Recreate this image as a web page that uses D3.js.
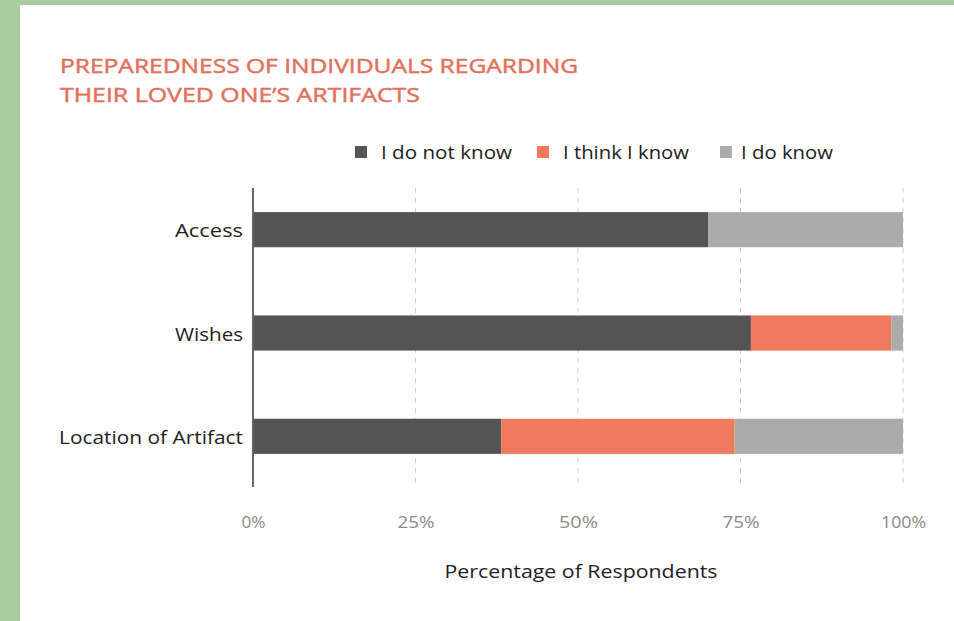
<!DOCTYPE html>
<html>
<head>
<meta charset="utf-8">
<script src="https://cdn.jsdelivr.net/npm/d3@7"></script>
<style>
  html, body { margin: 0; padding: 0; background: #fff; }
  svg { display: block; }
</style>
</head>
<body>
<svg id="chart" width="954" height="621"></svg>
<script>
const categories = ["Access", "Wishes", "Location of Artifact"];
const seriesNames = ["I do not know", "I think I know", "I do know"];
const doNotKnow = [70, 76.6, 38.2];
const thinkKnow = [0, 21.6, 35.9];
const doKnow = [30, 1.8, 25.9];
const tickValues = [0, 25, 50, 75, 100];
const tickLabels = ["0%", "25%", "50%", "75%", "100%"];
const titleLines = ["PREPAREDNESS OF INDIVIDUALS REGARDING", "THEIR LOVED ONE\u2019S ARTIFACTS"];
const axisTitle = "Percentage of Respondents";

const colors = ["#535453", "#f07a5e", "#ababab"];
const font = "'Open Sans', 'Noto Sans', sans-serif";

const svg = d3.select("#chart");
svg.append("rect").attr("width", 954).attr("height", 621).attr("fill", "#a8cc9f");
svg.append("rect").attr("x", 20).attr("y", 5).attr("width", 934).attr("height", 616).attr("fill", "#fff");

// Title
svg.append("g").selectAll("text").data(titleLines).join("text")
  .attr("x", 60).attr("y", (d, i) => 73 + i * 29)
  .attr("font-family", font).attr("font-size", 20).attr("font-weight", 400)
  .attr("fill", "#e2705a").attr("stroke", "#e2705a").attr("stroke-width", 0.45)
  .attr("textLength", (d, i) => i === 0 ? 518 : 360)
  .attr("lengthAdjust", "spacingAndGlyphs")
  .text(d => d);

const x = d3.scaleLinear().domain([0, 100]).range([253, 903]);
const y = d3.scaleBand().domain(categories).range([178, 488]).paddingInner(0.66).paddingOuter(0.33);

// Gridlines
svg.append("g").selectAll("line").data(tickValues.slice(1)).join("line")
  .attr("x1", d => x(d)).attr("x2", d => x(d))
  .attr("y1", 188).attr("y2", 487)
  .attr("stroke", "#cfcfcf").attr("stroke-width", 1).attr("stroke-dasharray", "5,5");

// Stacked data
const rows = categories.map((c, i) => ({ cat: c, "I do not know": doNotKnow[i], "I think I know": thinkKnow[i], "I do know": doKnow[i] }));
const stack = d3.stack().keys(seriesNames)(rows);

svg.append("g").selectAll("g").data(stack).join("g")
  .attr("fill", (d, i) => colors[i])
  .selectAll("rect").data(d => d).join("rect")
  .attr("x", d => x(d[0]))
  .attr("width", d => Math.max(0, x(d[1]) - x(d[0])))
  .attr("y", d => y(d.data.cat))
  .attr("height", y.bandwidth());

// Y axis line
svg.append("line").attr("x1", 253).attr("x2", 253).attr("y1", 188).attr("y2", 487)
  .attr("stroke", "#666").attr("stroke-width", 2);

// Category labels
const catWidths = [68, 68, 184];
svg.append("g").selectAll("text").data(categories).join("text")
  .attr("x", 243).attr("y", d => y(d) + y.bandwidth() / 2 + 7.5)
  .attr("text-anchor", "end")
  .attr("font-family", font).attr("font-size", 18)
  .attr("fill", "#1e1e1e")
  .attr("textLength", (d, i) => catWidths[i]).attr("lengthAdjust", "spacingAndGlyphs")
  .text(d => d);

// X axis tick labels via axis
const tickWidths = [24, 37, 39, 37, 45];
const xAxis = d3.axisBottom(x).tickValues(tickValues).tickFormat((d, i) => tickLabels[i]).tickSize(0).tickPadding(0);
const gx = svg.append("g").attr("transform", "translate(0,514)").call(xAxis);
gx.select(".domain").remove();
gx.selectAll("text").attr("font-family", font).attr("font-size", 17).attr("fill", "#888").attr("dy", "0.8em")
  .attr("textLength", (d, i) => tickWidths[i]).attr("lengthAdjust", "spacingAndGlyphs");

// Axis title
svg.append("text").attr("x", 581).attr("y", 578).attr("text-anchor", "middle")
  .attr("font-family", font).attr("font-size", 18).attr("fill", "#1e1e1e")
  .attr("textLength", 273).attr("lengthAdjust", "spacingAndGlyphs")
  .text(axisTitle);

// Legend
const legendX = [355, 537, 720];
const legendWidths = [131, 126, 92];
const lg = svg.append("g").selectAll("g").data(seriesNames).join("g")
  .attr("transform", (d, i) => `translate(${legendX[i]},146)`);
lg.append("rect").attr("width", 12).attr("height", 12).attr("fill", (d, i) => colors[i]);
lg.append("text").attr("x", (d, i) => i === 2 ? 21 : 26).attr("y", 12.5)
  .attr("font-family", font).attr("font-size", 18).attr("fill", "#1e1e1e")
  .attr("textLength", (d, i) => legendWidths[i]).attr("lengthAdjust", "spacingAndGlyphs")
  .text(d => d);
</script>
</body>
</html>
